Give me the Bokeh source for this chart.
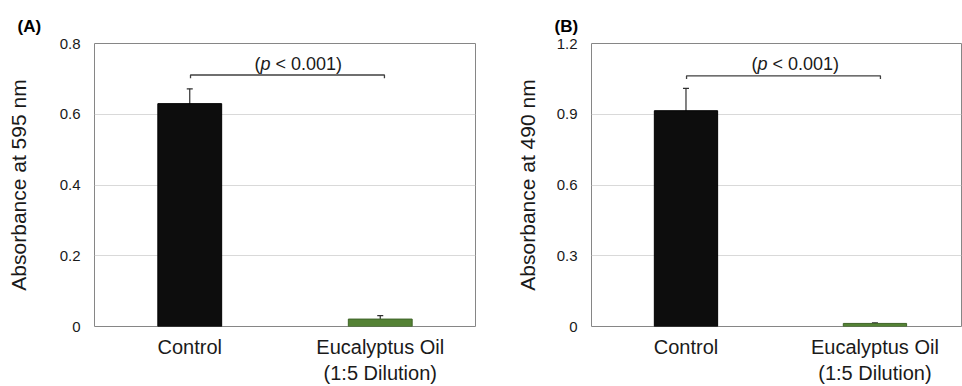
from bokeh.plotting import figure
from bokeh.models import ColumnDataSource, Whisker, TeeHead, Label, Range1d, FixedTicker
from bokeh.layouts import row
from bokeh.embed import file_html
from bokeh.resources import INLINE

# ---- data ----
categories = ["Control", "Eucalyptus Oil\n(1:5 Dilution)"]
colors = ["#0d0d0d", "#548235"]
edge_colors = ["#000000", "#3f6428"]

values_a = [0.63, 0.021]
errors_a = [0.042, 0.01]
values_b = [0.915, 0.013]
errors_b = [0.095, 0.003]

ticks_a = [0, 0.2, 0.4, 0.6, 0.8]
tick_labels_a = ["0", "0.2", "0.4", "0.6", "0.8"]
ticks_b = [0, 0.3, 0.6, 0.9, 1.2]
tick_labels_b = ["0", "0.3", "0.6", "0.9", "1.2"]

FONT = "Liberation Sans"
TXT = "#1a1a1a"


def panel(title, values, errors, ticks, tick_labels, ylabel, ymax, x_end,
          width, border_left, border_right, label_standoff, tick_standoff,
          title_offset, bracket, ptext):
    pos = [i + 0.5 for i in range(len(categories))]
    src = ColumnDataSource(dict(
        x=pos, top=values,
        upper=[v + e for v, e in zip(values, errors)],
        lower=[v - e for v, e in zip(values, errors)],
        fill=colors, edge=edge_colors))
    p = figure(width=width, height=386, output_backend="svg", toolbar_location=None,
               x_range=Range1d(0, x_end), y_range=Range1d(0, ymax),
               min_border_left=border_left, min_border_right=border_right,
               min_border_top=43, min_border_bottom=60)
    p.vbar(x="x", top="top", width=0.335, fill_color="fill", line_color="edge",
           line_width=1, source=src)
    w = Whisker(base="x", upper="upper", lower="lower", source=src,
                line_color="#303030", line_width=1.2,
                upper_head=TeeHead(size=6, line_color="#303030", line_width=1.2),
                lower_head=TeeHead(size=6, line_color="#303030", line_width=1.2))
    p.add_layout(w)

    # significance bracket
    bx0, bx1, by, bdrop = bracket
    p.line([bx0, bx0, bx1, bx1], [by - bdrop, by, by, by - bdrop],
           line_color="#404040", line_width=1.3)
    tx, ty = ptext
    parts = [("(", "normal", -44), ("p", "italic", -38), ("< 0.001)", "normal", -23)]
    for txt, style, off in parts:
        p.add_layout(Label(x=tx, y=ty, x_offset=off, text=txt, text_font=FONT,
                           text_font_size="18px", text_font_style=style,
                           text_color=TXT, text_baseline="middle",
                           text_align="left"))

    # axes
    p.xaxis.ticker = FixedTicker(ticks=pos)
    p.xaxis.major_label_overrides = {x: c for x, c in zip(pos, categories)}
    p.yaxis.ticker = FixedTicker(ticks=ticks)
    p.yaxis.major_label_overrides = {t: l for t, l in zip(ticks, tick_labels)}
    for ax in (p.xaxis, p.yaxis):
        ax.axis_line_color = None
        ax.major_tick_line_color = None
        ax.minor_tick_line_color = None
        ax.major_label_text_font = FONT
        ax.major_label_text_color = TXT
    p.xaxis.major_label_text_font_size = "20px"
    p.xaxis.major_label_standoff = 3
    p.yaxis.major_label_text_font_size = "15px"
    p.yaxis.major_label_standoff = tick_standoff
    p.yaxis.axis_label = ylabel
    p.yaxis.axis_label_text_font = FONT
    p.yaxis.axis_label_text_font_size = "21px"
    p.yaxis.axis_label_text_font_style = "normal"
    p.yaxis.axis_label_text_color = TXT
    p.yaxis.axis_label_standoff = label_standoff

    p.xgrid.grid_line_color = None
    p.ygrid.grid_line_color = "#d9d9d9"
    p.outline_line_color = "#868686"
    p.outline_line_width = 1

    p.title.text = title
    p.title.text_font = FONT
    p.title.text_font_size = "17px"
    p.title.text_font_style = "bold"
    p.title.text_color = "#000000"
    p.title.align = "left"
    p.title.vertical_align = "middle"
    p.title.offset = title_offset
    p.title.standoff = 13
    p.background_fill_color = "white"
    p.border_fill_color = "white"
    return p


pa = panel("(A)", values_a, errors_a, ticks_a, tick_labels_a,
           "Absorbance at 595 nm", 0.8, 2.0,
           width=511, border_left=94, border_right=36,
           label_standoff=27, tick_standoff=8, title_offset=-77,
           bracket=(0.504, 1.522, 0.711, 0.009), ptext=(1.071, 0.743))
pb = panel("(B)", values_b, errors_b, ticks_b, tick_labels_b,
           "Absorbance at 490 nm", 1.2, 1.958,
           width=451, border_left=80, border_right=1,
           label_standoff=15, tick_standoff=8, title_offset=-37,
           bracket=(0.503, 1.529, 1.063, 0.013), ptext=(1.079, 1.111))

layout = row(pa, pb)
open("out.html", "w").write(file_html(layout, INLINE))
